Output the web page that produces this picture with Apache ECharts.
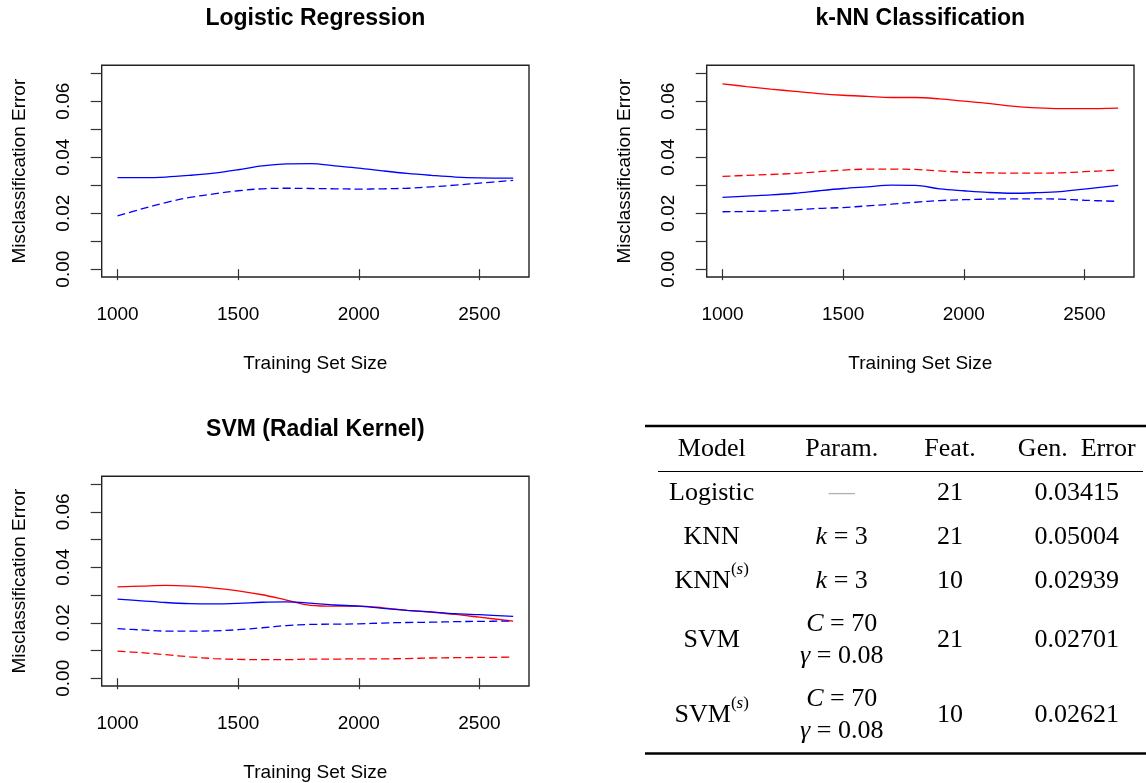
<!DOCTYPE html>
<html>
<head>
<meta charset="utf-8">
<script src="https://cdn.jsdelivr.net/npm/echarts@6/dist/echarts.min.js"></script>
<style>
html,body{margin:0;padding:0;background:#fff;}
#chart{width:1146px;height:783px;}
</style>
</head>
<body>
<div id="chart"></div>
<script>
// ---------- data ----------
const trainSizes = [1000,1100,1200,1300,1400,1500,1600,1700,1800,1900,2000,2100,2200,2300,2400,2500,2640];
const xTicks = [1000,1500,2000,2500];
const yTicks = [0,0.01,0.02,0.03,0.04,0.05,0.06,0.07];
const yTickLabels = [0,0.02,0.04,0.06];

// Logistic regression (blue): solid = test, dashed = train
const logitTest  = [0.0327,0.0327,0.0329,0.0335,0.0343,0.0355,0.0369,0.0376,0.0377,0.0369,0.0361,0.0351,0.0342,0.0335,0.0329,0.0326,0.0325];
const logitTrain = [0.0190,0.0215,0.0238,0.0256,0.0269,0.0280,0.0287,0.0289,0.0288,0.0287,0.0286,0.0287,0.0289,0.0294,0.0300,0.0307,0.0317];

// k-NN: red = all features, blue = selected features
const knnAllTest  = [0.0662,0.0652,0.0643,0.0635,0.0627,0.0621,0.0617,0.0613,0.0613,0.0608,0.0600,0.0592,0.0582,0.0576,0.0573,0.0573,0.0575];
const knnAllTrain = [0.0331,0.0335,0.0338,0.0342,0.0348,0.0354,0.0357,0.0357,0.0356,0.0351,0.0346,0.0344,0.0343,0.0343,0.0344,0.0348,0.0354];
const knnSelTest  = [0.0256,0.0261,0.0265,0.0271,0.0280,0.0288,0.0294,0.0300,0.0299,0.0287,0.0280,0.0274,0.0271,0.0273,0.0277,0.0286,0.0299];
const knnSelTrain = [0.0205,0.0206,0.0208,0.0212,0.0217,0.0220,0.0226,0.0232,0.0239,0.0245,0.0248,0.0250,0.0251,0.0251,0.0250,0.0246,0.0242];

// SVM: red = all features, blue = selected features
const svmAllTest  = [0.0329,0.0332,0.0335,0.0332,0.0325,0.0315,0.0301,0.0282,0.0263,0.0260,0.0260,0.0254,0.0245,0.0238,0.0230,0.0220,0.0206];
const svmAllTrain = [0.0098,0.0092,0.0085,0.0077,0.0071,0.0068,0.0067,0.0067,0.0069,0.0069,0.0070,0.0070,0.0071,0.0073,0.0074,0.0075,0.0076];
const svmSelTest  = [0.0285,0.0279,0.0273,0.0269,0.0268,0.0270,0.0274,0.0275,0.0271,0.0264,0.0260,0.0252,0.0245,0.0239,0.0233,0.0229,0.0223];
const svmSelTrain = [0.0179,0.0174,0.0170,0.0170,0.0171,0.0175,0.0182,0.0190,0.0194,0.0195,0.0196,0.0199,0.0201,0.0202,0.0204,0.0205,0.0206];

const panelTitles = ['Logistic Regression','k-NN Classification','SVM (Radial Kernel)'];
const xAxisTitle = 'Training Set Size';
const yAxisTitle = 'Misclassification Error';

// table
const tableHeader = ['Model','Param.','Feat.','Gen.  Error'];
const tableModels = ['Logistic','KNN','KNN','SVM','SVM'];
const tableModelSup = ['','','s','','s'];
const tableParams = [['—'],['k = 3'],['k = 3'],['C = 70','γ = 0.08'],['C = 70','γ = 0.08']];
const tableFeat = ['21','21','10','21','10'];
const tableErr = ['0.03415','0.05004','0.02939','0.02701','0.02621'];

// ---------- layout ----------
const SANS = '"Liberation Sans", Arial, Helvetica, sans-serif';
const SERIF = '"Liberation Serif", "Times New Roman", serif';
const BLUE = '#0000ff', RED = '#ff0000';
const boxW = 427.3, boxH = 211.7;
const boxes = [
  {left:101.7, top:65.3},
  {left:706.7, top:65.3},
  {left:101.7, top:476.3}
];

const grids = boxes.map(b => ({
  left: b.left, top: b.top, width: boxW, height: boxH,
  show: true, borderColor: '#222', borderWidth: 1.4, backgroundColor: 'transparent',
  containLabel: false
}));

const xAxes = boxes.map((b, i) => ({
  type: 'value', gridIndex: i, min: 934.4, max: 2705.6,
  axisLine: {show: false},
  axisTick: {show: true, inside: false, length: 11, lineStyle: {color: '#333', width: 1.2}, customValues: xTicks},
  axisLabel: {show: true, margin: 28, fontFamily: SANS, fontSize: 19, color: '#000', customValues: xTicks,
              formatter: v => String(Math.round(v))},
  splitLine: {show: false},
  name: xAxisTitle, nameLocation: 'middle', nameGap: 77,
  nameTextStyle: {fontFamily: SANS, fontSize: 19, color: '#000'}
}));

const yAxes = boxes.map((b, i) => ({
  type: 'value', gridIndex: i, min: -0.0028, max: 0.0728,
  axisLine: {show: false},
  axisTick: {show: true, inside: false, length: 11, lineStyle: {color: '#333', width: 1.2}, customValues: yTicks},
  axisLabel: {show: true, margin: 28, rotate: 90, fontFamily: SANS, fontSize: 19, color: '#000',
              customValues: yTickLabels, formatter: v => v.toFixed(2)},
  splitLine: {show: false},
  name: yAxisTitle, nameLocation: 'middle', nameGap: 72,
  nameTextStyle: {fontFamily: SANS, fontSize: 19, color: '#000'}
}));

function mk(values, gi, color, dashed) {
  return {
    type: 'line', xAxisIndex: gi, yAxisIndex: gi,
    data: trainSizes.map((x, k) => [x, values[k]]),
    showSymbol: false, symbol: 'none', smooth: 0.35,
    lineStyle: {color: color, width: 1.3, type: dashed ? [8, 4] : 'solid'},
    silent: true, animation: false
  };
}

const series = [
  mk(logitTest, 0, BLUE, false),
  mk(logitTrain, 0, BLUE, true),
  mk(knnAllTest, 1, RED, false),
  mk(knnAllTrain, 1, RED, true),
  mk(knnSelTest, 1, BLUE, false),
  mk(knnSelTrain, 1, BLUE, true),
  mk(svmAllTest, 2, RED, false),
  mk(svmAllTrain, 2, RED, true),
  mk(svmSelTest, 2, BLUE, false),
  mk(svmSelTrain, 2, BLUE, true)
];

// ---------- graphics: titles + table ----------
const graphics = [];
boxes.forEach((b, i) => {
  graphics.push({
    type: 'text', x: b.left + boxW / 2, y: b.top - 47,
    style: {text: panelTitles[i], fontFamily: SANS, fontSize: 23, fontWeight: 'bold', fill: '#000',
            align: 'center', verticalAlign: 'middle', textAlign: 'center', textVerticalAlign: 'middle'}
  });
});

const colX = [711.7, 841.7, 950, 1076.7];
const headerY = 449.3;
const rowY = [493.3, 536.7, 581, 640, 715];
const lineSep = 32.4;
const richBase = {
  n: {fontFamily: SERIF, fontSize: 26, fill: '#000'},
  it: {fontFamily: SERIF, fontSize: 26, fontStyle: 'italic', fill: '#000'},
  sp: {fontFamily: SERIF, fontSize: 17, fill: '#000', verticalAlign: 'top', lineHeight: 40},
  si: {fontFamily: SERIF, fontSize: 17, fontStyle: 'italic', fill: '#000', verticalAlign: 'top', lineHeight: 40},
  g: {fontFamily: SERIF, fontSize: 26, fill: '#b0b0b0'}
};
function txt(x, y, text, rich) {
  return {
    type: 'text', x: x, y: y,
    style: {text: text, rich: rich || richBase, fontFamily: SERIF, fontSize: 26, fill: '#000',
            align: 'center', verticalAlign: 'middle', textAlign: 'center', textVerticalAlign: 'middle'}
  };
}
// rules
graphics.push({type: 'line', shape: {x1: 645, y1: 426, x2: 1146, y2: 426}, style: {stroke: '#000', lineWidth: 2.4}});
graphics.push({type: 'line', shape: {x1: 658, y1: 471.5, x2: 1143, y2: 471.5}, style: {stroke: '#000', lineWidth: 1.2}});
graphics.push({type: 'line', shape: {x1: 645, y1: 753.5, x2: 1146, y2: 753.5}, style: {stroke: '#000', lineWidth: 2.4}});
// header
tableHeader.forEach((h, c) => graphics.push(txt(colX[c], headerY, '{n|' + h + '}')));
// rows
tableModels.forEach((m, r) => {
  const sup = tableModelSup[r] ? '{sp|(}{si|' + tableModelSup[r] + '}{sp|)}' : '';
  graphics.push(txt(colX[0], rowY[r], '{n|' + m + '}' + sup));
  const ps = tableParams[r];
  ps.forEach((p, j) => {
    const y = rowY[r] + (j - (ps.length - 1) / 2) * lineSep;
    let t;
    if (p.indexOf(' = ') > 0) {
      const parts = p.split(' = ');
      t = '{it|' + parts[0] + '}{n| = ' + parts[1] + '}';
    } else {
      t = '{g|' + p + '}';
    }
    graphics.push(txt(colX[1], y, t));
  });
  graphics.push(txt(colX[2], rowY[r], '{n|' + tableFeat[r] + '}'));
  graphics.push(txt(colX[3], rowY[r], '{n|' + tableErr[r] + '}'));
});

const chart = echarts.init(document.getElementById('chart'), null, {renderer: 'canvas'});
chart.setOption({
  animation: false,
  backgroundColor: '#fff',
  grid: grids,
  xAxis: xAxes,
  yAxis: yAxes,
  series: series,
  graphic: graphics
});
</script>
</body>
</html>
